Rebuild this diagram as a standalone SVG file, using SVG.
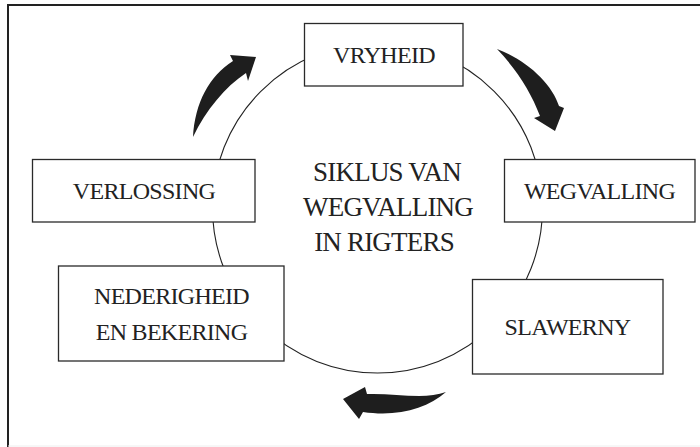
<svg xmlns="http://www.w3.org/2000/svg" width="700" height="447" viewBox="0 0 700 447">
  <style>
    .box { fill: #fff; stroke: #2a2a2a; stroke-width: 1.3; }
    .lbl { font-family: "Liberation Serif", "DejaVu Serif", serif; font-size: 24px; fill: #222; text-anchor: middle; letter-spacing: -0.7px; }
    .ctr { font-family: "Liberation Serif", "DejaVu Serif", serif; font-size: 27px; fill: #222; text-anchor: middle; letter-spacing: -0.8px; }
    .arrow { fill: #1e1e1e; stroke: none; }
  </style>
  <rect x="0" y="0" width="700" height="447" fill="#fff"/>
  <path d="M8,447 V5 H700" fill="none" stroke="#222" stroke-width="2"/>
  <line x1="8" y1="446" x2="700" y2="446" stroke="#eee" stroke-width="1"/>

  <g id="cycle">
    <circle cx="377.5" cy="208" r="165" fill="none" stroke="#222" stroke-width="1.1"/>
  </g>

  <g id="connectors">
    <path class="arrow" d="M193,137 C195,103 209,76 233,61 L230,55 L256,57 L248,81 L246,73 C225,87 206,110 193,137 Z"/>
    <path class="arrow" d="M497,49 C527,60 552,84 559,106 L564,108 L555,131 L534,118 L540,116 C531,92 517,70 497,49 Z"/>
    <path class="arrow" d="M446,392 C425,400 395,393 367,394 L365,387 L343,399 L359,419 L363,412 C397,417 427,409 446,392 Z"/>
  </g>

  <g id="center-label">
    <text class="ctr" x="387" y="181">SIKLUS VAN</text>
    <text class="ctr" x="388" y="216">WEGVALLING</text>
    <text class="ctr" x="384" y="251">IN RIGTERS</text>
  </g>

  <g id="vryheid">
    <rect class="box" x="304.5" y="23.5" width="158.5" height="62.5"/>
    <text class="lbl" x="384" y="62.5">VRYHEID</text>
  </g>

  <g id="wegvalling">
    <rect class="box" x="504.5" y="159.5" width="190.5" height="62.5"/>
    <text class="lbl" x="599.5" y="199">WEGVALLING</text>
  </g>

  <g id="slawerny">
    <rect class="box" x="472.5" y="279.5" width="190.5" height="94.5"/>
    <text class="lbl" x="567.5" y="335">SLAWERNY</text>
  </g>

  <g id="nederigheid">
    <rect class="box" x="58.5" y="266" width="225.5" height="95"/>
    <text class="lbl" x="171.5" y="304">NEDERIGHEID</text>
    <text class="lbl" x="171.5" y="340">EN BEKERING</text>
  </g>

  <g id="verlossing">
    <rect class="box" x="32.5" y="159.5" width="222.5" height="62.5"/>
    <text class="lbl" x="144" y="199">VERLOSSING</text>
  </g>
</svg>
